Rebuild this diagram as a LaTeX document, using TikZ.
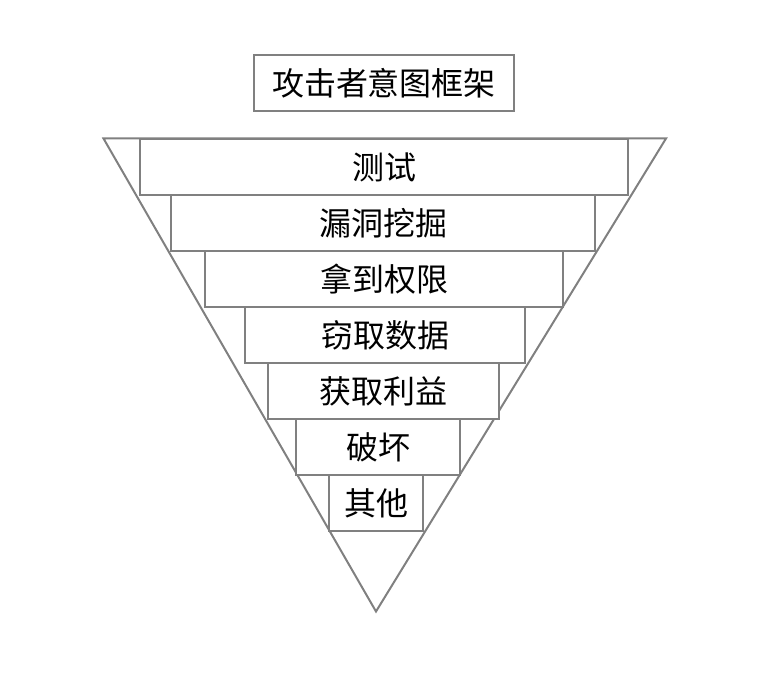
\documentclass[tikz,border=0pt]{standalone}
\usepackage{fontspec}
\setmainfont{Noto Sans CJK SC}
\usepackage{tikz}
\definecolor{FrameGray}{HTML}{808080}

\begin{document}
\begin{tikzpicture}[
  x=0.75pt,y=-0.75pt,
  font=\fontsize{24}{28}\selectfont,
  level/.style={draw=FrameGray,fill=white,line width=1.5pt,inner sep=0pt,
    minimum height=42pt,anchor=north west},
  heading/.style={level,anchor=center},
  funnel/.style={draw=FrameGray,line width=1.5pt,line join=miter}
]
  \useasboundingbox (0,0) rectangle (776,680);

  \node[heading,minimum width=195pt] (title) at (384,83.5) {攻击者意图框架};

  % funnel outline
  \coordinate (topleft) at (103.5,138.5);
  \coordinate (topright) at (666,138.5);
  \coordinate (apex) at (376,611.5);
  \draw[funnel] (topleft) -- (topright) -- (apex) -- cycle;

  \node[level,minimum width=366pt] (test) at (139,138.5) {测试};
  \node[level,minimum width=318pt] (vuln) at (170,194.5) {漏洞挖掘};
  \node[level,minimum width=268.5pt] (priv) at (204,250.5) {拿到权限};
  \node[level,minimum width=210pt] (steal) at (244,306.5) {窃取数据};
  \node[level,minimum width=173.25pt] (profit) at (267,362.5) {获取利益};
  \node[level,minimum width=123pt] (damage) at (295,418.5) {破坏};
  \node[level,minimum width=70.5pt] (other) at (328,474.5) {其他};
\end{tikzpicture}
\end{document}
